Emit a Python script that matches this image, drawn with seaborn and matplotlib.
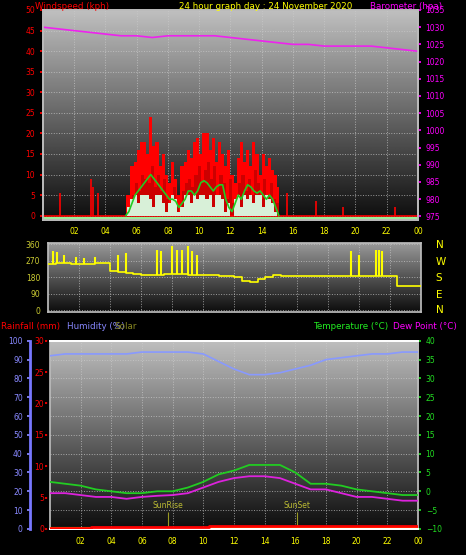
import numpy as np
import pandas as pd
import matplotlib
matplotlib.use("Agg")
import matplotlib.pyplot as plt
import seaborn as sns

sns.set_theme(style="dark")
plt.rcParams['font.family'] = ['DejaVu Sans']

# ---------------- data ----------------
hours = list(range(25))
baro = [1030, 1029.5, 1029, 1028.5, 1028, 1027.5, 1027.5, 1027, 1027.5, 1027.5, 1027.5, 1027.5,
        1027, 1026.5, 1026, 1025.5, 1025, 1025, 1024.5, 1024.5, 1024.5, 1024.5, 1024, 1023.5, 1023]

wind_t = [round(5.3 + 0.2 * i, 1) for i in range(50)]
gust = [5, 5, 12, 13, 16, 18, 18, 15, 24, 17, 18, 12, 15, 10, 8, 13, 9, 5, 12, 13, 16, 14, 18, 19, 15,
        20, 20, 16, 19, 13, 18, 15, 12, 16, 10, 8, 14, 18, 13, 16, 12, 18, 15, 10, 15, 12, 14, 11, 10, 7]
gust_low = [0, 2, 5, 8, 6, 10, 9, 8, 12, 7, 10, 6, 9, 4, 3, 7, 2, 1, 6, 8, 9, 7, 10, 12, 8,
            11, 13, 9, 12, 5, 10, 8, 4, 9, 3, 2, 8, 10, 6, 9, 5, 11, 8, 4, 9, 5, 8, 4, 3, 0]
avg_wind = [0, 1, 3, 5, 6, 7, 8, 9, 10, 9, 8, 7, 6, 5, 4, 4, 3.5, 2, 3, 4, 6, 6, 5, 6, 8, 8.5, 8, 7, 6, 7,
            7.5, 7.5, 4, 2, 1, 3, 5, 4, 6, 7.5, 7, 6, 5.5, 6, 5, 4, 5, 4, 2, 0]
wind_speed = [0, 2, 4, 5, 3, 5, 5, 5, 4, 2, 5, 5, 3, 1, 3, 5, 4, 1, 2, 5, 5, 3, 5, 4, 5, 5, 4, 5, 2, 5,
              5, 4, 1, 3, 0, 4, 5, 2, 5, 4, 5, 3, 5, 5, 2, 5, 4, 3, 1, 0]
gust_spike_t = [1.1, 3.1, 3.2, 3.5, 15.6, 17.5, 19.2, 22.5]
gust_spike_v = [5.5, 9, 7, 5.5, 5.5, 3.5, 2, 2]

dir_t = [i * 0.5 for i in range(49)]
dir_base = [250, 255, 255, 250, 250, 250, 255, 255, 215, 205, 200, 195, 190, 190, 190, 195, 195, 195,
            190, 190, 190, 190, 185, 185, 180, 160, 155, 170, 180, 190, 185, 185, 185, 185, 185, 185,
            185, 185, 185, 185, 185, 185, 185, 185, 185, 130, 130, 130, 130]
dir_spike_t = [0.3, 0.6, 1.0, 1.8, 2.3, 3.0, 4.5, 5.0, 7.0, 7.3, 8.0, 8.3, 8.6, 9.0, 9.3, 9.6,
               19.5, 20.0, 21.1, 21.3, 21.5]
dir_spike_v = [320, 315, 300, 290, 285, 290, 300, 310, 330, 320, 350, 330, 330, 350, 320, 300,
               320, 300, 330, 330, 320]

humidity = [92, 93, 93, 93, 93, 93, 94, 94, 94, 94, 93, 89, 85, 82, 82, 83, 85, 87, 90, 91, 92, 93, 93, 94, 94]
temperature = [2.5, 2, 1.5, 0.5, 0, -0.5, -0.5, 0, 0, 1, 2.5, 4.5, 5.5, 7, 7, 7, 5, 2, 2, 1.5, 0.5, 0, -0.5, -1, -1]
dewpoint = [-0.5, -0.5, -1, -1.5, -1.5, -2, -1.5, -1.2, -1, -0.5, 1, 2.5, 3.5, 4, 4, 3.5, 2, 0.5, 0.5,
            -0.5, -1.5, -1.5, -2, -2.5, -2.5]
rain_t = [0, 2.7, 10.4, 24]
rain = [0.1, 0.3, 0.5, 0.5]

xticks = list(range(2, 25, 2))
xlabels = ["02", "04", "06", "08", "10", "12", "14", "16", "18", "20", "22", "00"]

# ---------------- figure ----------------
fig = plt.figure(figsize=(4.66, 5.55), dpi=100, facecolor="black")
FS = 5.5
TF = 6.3


def background(ax, top, bottom):
    grad = np.linspace(top, bottom, 256).reshape(-1, 1)
    ax.imshow(grad, extent=[0, 1, 0, 1], transform=ax.transAxes, cmap="gray", vmin=0, vmax=1,
              aspect="auto", zorder=0)
    ax.set_facecolor("black")


def style_grid(ax):
    ax.set_xticks(xticks)
    ax.grid(True, color="#cccccc", linestyle=":", linewidth=0.7, alpha=0.7, zorder=1)
    ax.set_xlim(0, 24)


# Panel 1: wind & barometer
ax1 = fig.add_axes([0.092, 0.604, 0.805, 0.378])
background(ax1, 0.75, 0.05)
style_grid(ax1)
ax1.set_ylim(-1, 50)
ax1.set_yticks(range(0, 51, 5))
ax1.tick_params(axis="y", colors="red", labelsize=FS, length=2)
ax1.tick_params(axis="x", colors="yellow", labelsize=FS, length=2)
ax1.set_xticklabels(xlabels)
ax1.fill_between(wind_t, 0, gust, step="mid", color="#ff0000", zorder=3, linewidth=0)
ax1.fill_between(wind_t, 0, gust_low, step="post", color="#cc0000", zorder=3, linewidth=0)
ax1.vlines(gust_spike_t, 0, gust_spike_v, color="red", linewidth=1.2, zorder=3)
ax1.plot([0, 24], [0, 0], color="red", linewidth=1.2, zorder=3)
ax1.fill_between(wind_t, 0, wind_speed, step="mid", color="#d8f0d8", zorder=4, linewidth=0)
df_w = pd.DataFrame({"t": wind_t, "avg": avg_wind})
sns.lineplot(data=df_w, x="t", y="avg", ax=ax1, color="#22cc22", linewidth=1.2, zorder=5)
ax1.plot([0, 24], [-0.6, -0.6], color="#99ee99", linewidth=1.5, zorder=5)
ax1.set_xlabel(""); ax1.set_ylabel("")
ax1b = ax1.twinx()
ax1b.set_ylim(974, 1035)
ax1b.set_yticks(range(975, 1036, 5))
ax1b.tick_params(axis="y", colors="magenta", labelsize=FS, length=2)
df_b = pd.DataFrame({"h": hours, "baro": baro})
sns.lineplot(data=df_b, x="h", y="baro", ax=ax1b, color="#ee22ee", linewidth=1.2)
ax1b.set_xlabel(""); ax1b.set_ylabel("")
for a in (ax1, ax1b):
    for s in a.spines.values():
        s.set_color("#bbbbbb")
ax1b.grid(False)

fig.text(0.075, 0.996, "Windspeed (kph)", color="red", fontsize=TF, va="top")
fig.text(0.57, 0.996, "24 hour graph day : 24 November 2020", color="yellow", fontsize=TF, va="top", ha="center")
fig.text(0.795, 0.996, "Barometer (hpa)", color="magenta", fontsize=TF, va="top")

# Panel 2: wind direction
ax2 = fig.add_axes([0.103, 0.438, 0.80, 0.124])
background(ax2, 0.6, 0.05)
style_grid(ax2)
ax2.set_ylim(-10, 365)
ax2.set_yticks([0, 90, 180, 270, 360])
ax2.tick_params(axis="y", colors="#cccc33", labelsize=FS, length=2)
ax2.tick_params(axis="x", labelbottom=False, length=0)
df_d = pd.DataFrame({"t": dir_t, "dir": dir_base})
sns.lineplot(data=df_d, x="t", y="dir", ax=ax2, color="yellow", linewidth=1.2, drawstyle="steps-post", zorder=3)
base_at = np.interp(dir_spike_t, dir_t, dir_base)
ax2.vlines(dir_spike_t, base_at, dir_spike_v, color="yellow", linewidth=1.5, zorder=3)
ax2.set_xlabel(""); ax2.set_ylabel("")
for s in ax2.spines.values():
    s.set_color("#bbbbbb")
for lab, yy in zip(["N", "W", "S", "E", "N"], [0.559, 0.528, 0.499, 0.468, 0.441]):
    fig.text(0.935, yy, lab, color="yellow", fontsize=7.5, va="center")

# Panel 3: temperature etc.
ax3 = fig.add_axes([0.107, 0.047, 0.79, 0.339])
background(ax3, 0.75, 0.05)
style_grid(ax3)
ax3.set_xticklabels(xlabels)
ax3.set_ylim(-10, 40)
ax3.set_yticks(range(-10, 41, 5))
ax3.tick_params(axis="x", colors="yellow", labelsize=FS, length=2)
df_t = pd.DataFrame({"h": hours, "temp": temperature, "dew": dewpoint})
sns.lineplot(data=df_t, x="h", y="temp", ax=ax3, color="#22cc22", linewidth=1.3, zorder=4)
sns.lineplot(data=df_t, x="h", y="dew", ax=ax3, color="#dd22dd", linewidth=1.3, zorder=4)
ax3.plot([0, 24], [-9.7, -9.7], color="yellow", linewidth=1.5, zorder=4)
for tx, lab in [(7.7, "SunRise"), (16.1, "SunSet")]:
    ax3.vlines(tx, -9.5, -5.5, color="#999922", linewidth=0.8, zorder=3)
    ax3.text(tx, -4.5, lab, color="#bbbb33", fontsize=FS, ha="center", zorder=5)
ax3.set_xlabel(""); ax3.set_ylabel("")
for s in ax3.spines.values():
    s.set_color("#bbbbbb")

ax3h = ax3.twinx()
ax3h.yaxis.tick_left()
ax3h.set_ylim(0, 100)
ax3h.set_yticks(range(0, 101, 10))
ax3h.tick_params(axis="y", colors="#8888ff", labelsize=FS, length=2)
ax3h.spines["left"].set_visible(True)
ax3h.spines["left"].set_position(("outward", 14))
ax3h.spines["left"].set_color("#7777ff")
ax3h.spines["left"].set_linewidth(2)
ax3h.spines["right"].set_visible(False)
df_h = pd.DataFrame({"h": hours, "hum": humidity})
sns.lineplot(data=df_h, x="h", y="hum", ax=ax3h, color="#8899ff", linewidth=1.2)
ax3h.set_xlabel(""); ax3h.set_ylabel(""); ax3h.grid(False)

ax3r = ax3.twinx()
ax3r.yaxis.tick_left()
ax3r.set_ylim(0, 30)
ax3r.set_yticks(range(0, 31, 5))
ax3r.tick_params(axis="y", colors="red", labelsize=FS, length=2, pad=1)
df_r = pd.DataFrame({"t": rain_t, "rain": rain})
sns.lineplot(data=df_r, x="t", y="rain", ax=ax3r, color="red", linewidth=2, drawstyle="steps-post", zorder=5)
ax3r.set_xlabel(""); ax3r.set_ylabel(""); ax3r.grid(False)
ax3r.spines["left"].set_position(("outward", 1))
ax3r.spines["left"].set_color("black")
ax3r.spines["right"].set_visible(False)

# temperature axis on right (after twins, which reset to left)
ax3.yaxis.tick_right()
ax3.tick_params(axis="y", colors="#22dd22", labelsize=FS, length=2, labelleft=False, left=False)

fig.text(0.003, 0.411, "Rainfall (mm)", color="red", fontsize=TF, va="center")
fig.text(0.143, 0.411, "Humidity (%)", color="#8888ff", fontsize=TF, va="center")
fig.text(0.245, 0.411, "Solar", color="#888822", fontsize=TF, va="center")
fig.text(0.672, 0.411, "Temperature (°C)", color="#22ee22", fontsize=TF, va="center")
fig.text(0.843, 0.411, "Dew Point (°C)", color="magenta", fontsize=TF, va="center")

fig.savefig("out.png", dpi=100, facecolor="black")
